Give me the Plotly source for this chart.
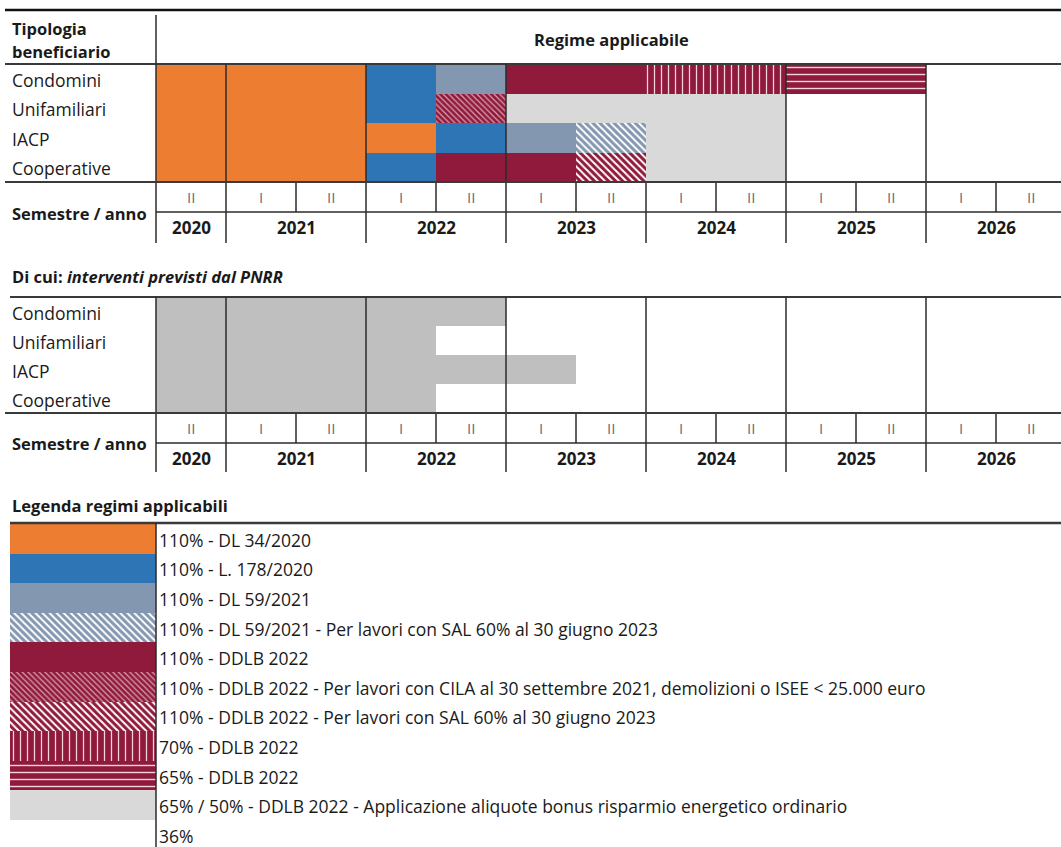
import plotly.graph_objects as go

# ---------------- data ----------------
categories = ["Condomini", "Unifamiliari", "IACP", "Cooperative"]
semester_labels = ["II", "I", "II", "I", "II", "I", "II", "I", "II", "I", "II", "I", "II"]
year_labels = ["2020", "2021", "2022", "2023", "2024", "2025", "2026"]
year_start = [0, 1, 3, 5, 7, 9, 11]
year_end = [1, 3, 5, 7, 9, 11, 13]

regime_keys = ["DL34", "L178", "DL59", "DL59_SAL", "DDLB110", "DDLB110_CILA",
               "DDLB110_SAL", "DDLB70", "DDLB65", "ORD", "B36"]
regime_labels = [
    "110% - DL 34/2020",
    "110% - L. 178/2020",
    "110% - DL 59/2021",
    "110% - DL 59/2021 - Per lavori con SAL 60% al 30 giugno 2023",
    "110% - DDLB 2022",
    "110% - DDLB 2022 - Per lavori con CILA al 30 settembre 2021, demolizioni o ISEE < 25.000 euro",
    "110% - DDLB 2022 - Per lavori con SAL 60% al 30 giugno 2023",
    "70% - DDLB 2022",
    "65% - DDLB 2022",
    "65% / 50% - DDLB 2022 - Applicazione aliquote bonus risparmio energetico ordinario",
    "36%",
]

# cells of the "Regime applicabile" table (semester index 0 = 2020-II)
cell_category = ["Condomini"] * 6 + ["Unifamiliari"] * 4 + ["IACP"] * 5 + ["Cooperative"] * 5
cell_start = [0, 3, 4, 5, 7, 9,   0, 3, 4, 5,   0, 4, 5, 6, 7,   0, 3, 4, 6, 7]
cell_end = [3, 4, 5, 7, 9, 11,    3, 4, 5, 9,   4, 5, 6, 7, 9,   3, 4, 6, 7, 9]
cell_regime = ["DL34", "L178", "DL59", "DDLB110", "DDLB70", "DDLB65",
               "DL34", "L178", "DDLB110_CILA", "ORD",
               "DL34", "L178", "DL59", "DL59_SAL", "ORD",
               "DL34", "L178", "DDLB110", "DDLB110_SAL", "ORD"]

# PNRR interventions (start/end semester index)
pnrr_start = [0, 0, 0, 0]
pnrr_end = [5, 4, 6, 4]

# ---------------- styles ----------------
ORANGE, BLUE, STEEL, CRIMSON, LGRAY, PGRAY = "#ED7D31", "#2E75B6", "#8497B0", "#901A3B", "#D9D9D9", "#BFBFBF"
styles = {
    "DL34": dict(color=ORANGE),
    "L178": dict(color=BLUE),
    "DL59": dict(color=STEEL),
    "DL59_SAL": dict(color=STEEL, pattern=dict(shape="\\", bgcolor=STEEL, fgcolor="#FFFFFF", size=5, solidity=0.4, fillmode="replace")),
    "DDLB110": dict(color=CRIMSON),
    "DDLB110_CILA": dict(color=CRIMSON, pattern=dict(shape="\\", bgcolor=CRIMSON, fgcolor="#D9A3B2", size=4, solidity=0.3, fillmode="replace")),
    "DDLB110_SAL": dict(color=CRIMSON, pattern=dict(shape="\\", bgcolor=CRIMSON, fgcolor="#FFFFFF", size=5, solidity=0.4, fillmode="replace")),
    "DDLB70": dict(color=CRIMSON, pattern=dict(shape="|", bgcolor=CRIMSON, fgcolor="#F2D5DC", size=7, solidity=0.18, fillmode="replace")),
    "DDLB65": dict(color=CRIMSON, pattern=dict(shape="-", bgcolor=CRIMSON, fgcolor="#F2D5DC", size=7, solidity=0.2, fillmode="replace")),
    "ORD": dict(color=LGRAY),
    "B36": None,
}

W, H = 1061, 847
LABEL_PX = 156
SEM_PX = 70
FONT = "Open Sans"
FS = 17.5
FSB = 16.5
TXT = "#1a1a1a"

def px(x):
    return x / W

def py(y):
    return 1 - y / H

X0 = -LABEL_PX / SEM_PX
X1 = (W - LABEL_PX) / SEM_PX

fig = go.Figure()

# main table bars
for key in regime_keys:
    st = styles[key]
    if st is None:
        continue
    idx = [i for i, r in enumerate(cell_regime) if r == key]
    if not idx:
        continue
    marker = dict(color=st["color"], line=dict(width=0))
    if "pattern" in st:
        marker["pattern"] = st["pattern"]
    fig.add_trace(go.Bar(
        y=[cell_category[i] for i in idx],
        x=[cell_end[i] - cell_start[i] for i in idx],
        base=[cell_start[i] for i in idx],
        orientation="h", width=1, marker=marker,
        xaxis="x", yaxis="y", showlegend=False, hoverinfo="skip"))

# PNRR bars
fig.add_trace(go.Bar(
    y=categories, x=[e - s for s, e in zip(pnrr_start, pnrr_end)], base=pnrr_start,
    orientation="h", width=1, marker=dict(color=PGRAY, line=dict(width=0)),
    xaxis="x", yaxis="y2", showlegend=False, hoverinfo="skip"))

# legend swatches
for key, lab in zip(regime_keys, regime_labels):
    st = styles[key]
    if st is None:
        continue
    marker = dict(color=st["color"], line=dict(width=0))
    if "pattern" in st:
        marker["pattern"] = st["pattern"]
    fig.add_trace(go.Bar(
        y=[lab], x=[1], base=[0], orientation="h", width=1, marker=marker,
        xaxis="x2", yaxis="y3", showlegend=False, hoverinfo="skip"))

# ---------------- lines ----------------
shapes = []
LC = "#2b2b2b"

def hline(y, x0, x1, w=1.5, c=LC):
    shapes.append(dict(type="line", xref="paper", yref="paper", x0=px(x0), x1=px(x1),
                       y0=py(y), y1=py(y), line=dict(color=c, width=w)))

def vline(s, y0, y1, w=1.5, c=LC):
    shapes.append(dict(type="line", xref="x", yref="paper", x0=s, x1=s,
                       y0=py(y0), y1=py(y1), line=dict(color=c, width=w)))

def table_block(top, rows_top, rows_bot, sem_bot, year_bot, chart_bounds):
    vline(0, top, year_bot)
    for b in chart_bounds:
        vline(b, rows_top, rows_bot)
    for b in range(1, len(semester_labels)):
        vline(b, rows_bot, sem_bot)
    for b in year_start[1:]:
        vline(b, sem_bot, year_bot)
    hline(rows_bot, 5, W, 2, "#3a3a3a")
    hline(sem_bot, LABEL_PX, W, 1.5)

# top table
hline(10, 5, W, 2.5, "#111111")
hline(64, 5, W, 2, "#3a3a3a")
table_block(15, 64, 182, 212, 243, [1, 3, 5, 9, 11])
# PNRR table
hline(297, 10, W, 2, "#3a3a3a")
table_block(297, 297, 413, 443, 472, year_start[1:])
# legend
hline(523, 10, W, 2.5, "#3a3a3a")
vline(0, 523, H)

# ---------------- texts ----------------
ann = []

def text(x, y, s, xref="paper", yref="paper", size=FS, bold=False, xanchor="left", color=TXT, yshift=0):
    ann.append(dict(x=x, y=y, xref=xref, yref=yref, text=("<b>%s</b>" % s) if bold else s,
                    showarrow=False, xanchor=xanchor, yanchor="middle", yshift=yshift,
                    font=dict(family=FONT, size=size, color=color)))

text(px(10), py(28), "Tipologia", bold=True, size=FSB)
text(px(10), py(52), "beneficiario", bold=True, size=FSB)
text(px(611), py(40), "Regime applicabile", bold=True, xanchor="center", size=FSB)

for yax, sem_y, year_y, lab_y in [("y", 197, 228, 213), ("y2", 428, 458, 443)]:
    for c in categories:
        text(px(10), c, c, yref=yax, yshift=-1)
    for i, s in enumerate(semester_labels):
        text(i + 0.5, py(sem_y), s, xref="x", xanchor="center", color="#5f6f80", size=15)
    for lab, s, e in zip(year_labels, year_start, year_end):
        text((s + e) / 2, py(year_y), lab, xref="x", xanchor="center", bold=True, size=17)
    text(px(10), py(lab_y), "Semestre / anno", bold=True, size=FSB)

text(px(10), py(276), "<b>Di cui: <i>interventi previsti dal PNRR</i></b>", size=FSB)
text(px(10), py(505), "Legenda regimi applicabili", bold=True, size=FSB)
for lab in regime_labels:
    text(px(157), lab, lab, yref="y3", yshift=-1)

# ---------------- layout ----------------
ROW_PX = 29.6
leg_top = 524
leg_rows = (H - leg_top) / ROW_PX
fig.update_layout(
    width=W, height=H, margin=dict(l=0, r=0, t=0, b=0),
    paper_bgcolor="white", plot_bgcolor="rgba(0,0,0,0)",
    barmode="overlay", bargap=0,
    xaxis=dict(domain=[0, 1], range=[X0, X1], visible=False, fixedrange=True),
    xaxis2=dict(domain=[px(10), px(LABEL_PX)], range=[0, 1], visible=False, anchor="y3"),
    yaxis=dict(domain=[py(182), py(64)], type="category", categoryarray=categories,
               range=[len(categories) - 0.5, -0.5], visible=False),
    yaxis2=dict(domain=[py(413), py(297)], type="category", categoryarray=categories,
                range=[len(categories) - 0.5, -0.5], visible=False),
    yaxis3=dict(domain=[0, py(leg_top)], type="category", categoryarray=regime_labels,
                range=[leg_rows - 0.5, -0.5], visible=False, anchor="x2"),
    shapes=shapes, annotations=ann,
)

fig.write_html("out.html")
